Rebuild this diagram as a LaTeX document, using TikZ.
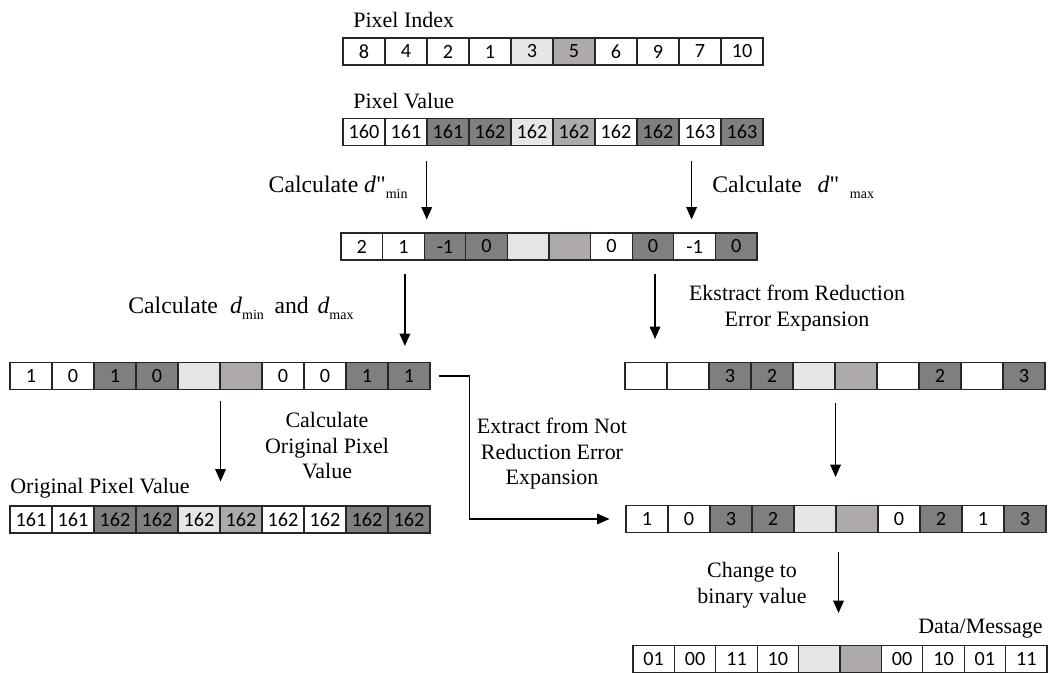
\documentclass[tikz,border=0pt]{standalone}
\usepackage{fontspec}
\setmainfont{Liberation Serif}
\newfontfamily\cellfont{Carlito}
\newfontfamily\quotefont{Liberation Serif}[Ligatures=TeXOff]
\usetikzlibrary{arrows.meta,calc}
\definecolor{dk}{HTML}{7F7F7F}
\definecolor{lt}{HTML}{E7E6E6}
\definecolor{md}{HTML}{AEAAAA}
\newcommand{\lowsub}[1]{\raisebox{-3.5pt}{\fontsize{8}{8}\selectfont #1}}
\newcommand{\dq}{{\quotefont"}}
% name, left x, centre y, cell width, value/colour list
\newcommand{\cellrow}[5]{%
  \foreach \v/\c [count=\i] in {#5}
    \node[cell,fill=\c,minimum width=#4*0.02cm] (#1-\i) at ({#2+(\i-0.5)*#4},#3) {\v};}

\begin{document}
\begin{tikzpicture}[x=0.02cm,y=-0.02cm,
  cell/.style={draw=black!85,line width=0.6pt,minimum height=0.54cm,inner sep=0pt,
    font=\cellfont\fontsize{11.5}{13}\selectfont},
  lbl/.style={font=\fontsize{12.5}{14.5}\selectfont,inner sep=0pt,align=center},
  clbl/.style={font=\fontsize{13.5}{16}\selectfont,inner sep=0pt},
  flow/.style={line width=0.8pt,-{Triangle[length=7pt,width=6pt]}}]
  \useasboundingbox (0,0) rectangle (1050,673);

  % rows of cells
  \cellrow{idx}{343}{51.5}{42}{8/white,4/white,2/white,1/white,3/lt,5/md,6/white,9/white,7/white,10/white}
  \cellrow{pv}{343}{132}{42}{160/white,161/white,161/dk,162/dk,162/lt,162/md,162/white,162/dk,163/white,163/dk}
  \cellrow{dd}{341}{246.5}{41.6}{2/white,1/white,-1/dk,0/dk,{}/lt,{}/md,0/white,0/dk,-1/white,0/dk}
  \cellrow{bit}{10}{376}{42}{1/white,0/white,1/dk,0/dk,{}/lt,{}/md,0/white,0/white,1/dk,1/dk}
  \cellrow{ext}{625}{376}{42}{{}/white,{}/white,3/dk,2/dk,{}/lt,{}/md,{}/white,2/dk,{}/white,3/dk}
  \cellrow{org}{10}{519.5}{42}{161/white,161/white,162/dk,162/dk,162/lt,162/md,162/white,162/white,162/dk,162/dk}
  \cellrow{rec}{626}{519}{42}{1/white,0/white,3/dk,2/dk,{}/lt,{}/md,0/white,2/dk,1/white,3/dk}
  \cellrow{msg}{633}{659}{41.4}{01/white,00/white,11/white,10/white,{}/lt,{}/md,00/white,10/white,01/white,11/white}

  % titles and step labels
  \node[lbl,anchor=base west] (tIdx) at (353,27) {Pixel Index};
  \node[lbl,anchor=base west] (tPv) at (353,108) {Pixel Value};
  \node[lbl,anchor=base west] (tOrg) at (10,493) {Original Pixel Value};
  \node[lbl,anchor=base east] (tMsg) at (1043,633) {Data/Message};
  \node[clbl,anchor=base east] (sMin) at (408,192) {Calculate \textit{d}\dq\lowsub{min}};
  \node[clbl,anchor=base west] (sMax) at (712,192) {Calculate\hspace{9pt}\textit{d}\dq\hspace{6pt}\lowsub{max}};
  \node[clbl,anchor=base west] (sBoth) at (128,313)
    {Calculate\hspace{7pt}\textit{d}\lowsub{min}\hspace{6pt}and\hspace{5pt}\textit{d}\lowsub{max}};
  \node[lbl] (sEks) at (797,308) {Ekstract from Reduction\\Error Expansion};
  \node[lbl] (sOrg) at (327,446) {Calculate\\Original Pixel\\Value};
  \node[lbl] (sNot) at (552,454) {Extract from Not\\Reduction Error\\Expansion};
  \node[lbl] (sBin) at (752,585) {Change to\\binary value};

  % arrows
  \draw[flow] ($(dd-2.north east |- pv-2.south)+(2,15)$) -- ($(dd-2.north east)+(2,-13)$);
  \draw[flow] ($(dd-9.north |- pv-9.south)+(-3,15)$) -- ($(dd-9.north)+(-3,-13)$);
  \draw[flow] ($(dd-2.south)+(1.5,13)$) -- ($(dd-2.south |- bit-1.north)+(1.5,-16)$);
  \draw[flow] ($(dd-8.south)+(2,13)$) -- ($(dd-8.south |- ext-1.north)+(2,-23)$);
  \draw[flow] ($(bit-5.south east)+(0,11)$) -- ($(bit-5.south east |- org-1.north)+(0,-24)$);
  \draw[flow] ($(ext-5.south east)+(0,13)$) -- ($(ext-5.south east |- rec-1.north)+(0,-28)$);
  \draw[flow] ($(rec-5.south east)+(2,19)$) -- ($(rec-5.south east |- msg-1.north)+(2,-32)$);
  \draw[flow] ($(bit-10.east)+(8,0)$) -- ++(31,0) |- ($(rec-1.west)+(-16,0)$);
\end{tikzpicture}
\end{document}
